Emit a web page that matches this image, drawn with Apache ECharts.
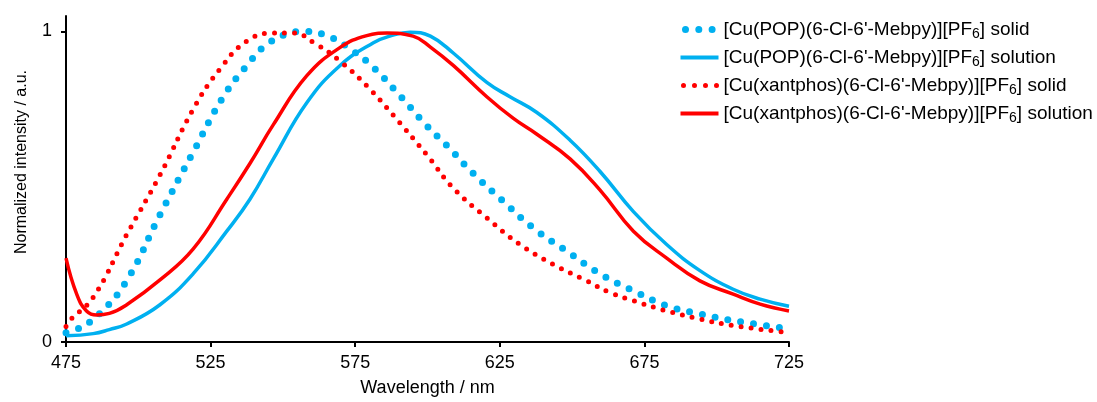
<!DOCTYPE html>
<html>
<head>
<meta charset="utf-8">
<script src="https://cdn.jsdelivr.net/npm/echarts@6/dist/echarts.min.js"></script>
<style>
html,body{margin:0;padding:0;background:#fff;}
#c{width:1097px;height:402px;}
</style>
</head>
<body>
<div id="c"></div>
<script>
// ---- data ----
var xTicks = [475, 525, 575, 625, 675, 725];
var yTicks = [0, 1];

var popSolidX = [475, 478.7, 486, 496, 507.5, 519, 529.4, 537.5, 544.4, 552.5, 557, 565.7, 574.3, 581.3, 590.5, 599.7, 606.6, 615.8, 626.2, 636.6, 648.1, 659.6, 671.2, 682.7, 694.2, 705.7, 725];
var popSolidY = [0.03, 0.04, 0.086, 0.198, 0.41, 0.612, 0.79, 0.89, 0.958, 0.995, 1.0, 0.985, 0.937, 0.884, 0.793, 0.697, 0.634, 0.543, 0.453, 0.367, 0.293, 0.22, 0.165, 0.117, 0.09, 0.069, 0.042];

var popSolnX = [475, 484.4, 490, 496, 507.5, 519, 530.6, 538.6, 546.7, 558.2, 569.7, 581.3, 587, 594, 601, 609, 620.5, 628.5, 637.7, 649.3, 659.6, 671.2, 682.7, 694.2, 705.7, 715, 725];
var popSolnY = [0.02, 0.027, 0.04, 0.058, 0.12, 0.22, 0.357, 0.46, 0.59, 0.77, 0.89, 0.964, 0.985, 0.998, 0.985, 0.93, 0.836, 0.79, 0.74, 0.65, 0.55, 0.42, 0.314, 0.23, 0.17, 0.138, 0.115];

var xantSolidX = [475, 476.4, 484.4, 496, 507.5, 519, 528.2, 537.5, 546.7, 553.6, 561.7, 569.7, 579, 588.2, 600, 609, 620.5, 632, 643.5, 655, 663, 671.2, 682.7, 694.2, 705.7, 725];
var xantSolidY = [0.05, 0.07, 0.144, 0.346, 0.538, 0.75, 0.879, 0.969, 0.995, 0.995, 0.958, 0.905, 0.825, 0.73, 0.60, 0.495, 0.40, 0.314, 0.25, 0.197, 0.16, 0.133, 0.10, 0.074, 0.053, 0.03];

var xantSolnX = [475, 478.7, 482.1, 485.6, 490, 496, 507.5, 519, 530.6, 538.6, 546.7, 558.2, 569.7, 579, 586, 595, 601, 609, 620.5, 629.7, 637.7, 649.3, 659.6, 671.2, 682.7, 694.2, 705.7, 715, 725];
var xantSolnY = [0.27, 0.154, 0.10, 0.087, 0.092, 0.12, 0.20, 0.30, 0.46, 0.575, 0.70, 0.857, 0.948, 0.987, 0.995, 0.985, 0.95, 0.89, 0.79, 0.72, 0.67, 0.59, 0.49, 0.357, 0.27, 0.197, 0.154, 0.122, 0.10];

var seriesNames = [
  "[Cu(POP)(6-Cl-6'-Mebpy)][PF6] solid",
  "[Cu(POP)(6-Cl-6'-Mebpy)][PF6] solution",
  "[Cu(xantphos)(6-Cl-6'-Mebpy)][PF6] solid",
  "[Cu(xantphos)(6-Cl-6'-Mebpy)][PF6] solution"
];

function pairs(xs, ys){ return xs.map(function(x,i){ return [x, ys[i]]; }); }

var BLUE = '#00B0F0', RED = '#FF0000';
var FONT = "'Liberation Sans', Arial, sans-serif";

var chart = echarts.init(document.getElementById('c'), null, {renderer:'canvas'});
chart.setOption({
  animation: false,
  backgroundColor: '#fff',
  textStyle: {fontFamily: FONT, color: '#000'},
  grid: {left: 66, right: 308, top: 16, bottom: 57, containLabel: false},
  legend: {
    orient: 'vertical',
    left: 677, top: 20, padding: 0,
    itemWidth: 38, itemHeight: 14, itemGap: 7,
    itemStyle: {opacity: 0},
    data: [
      {name: seriesNames[0], lineStyle: {width: 7, type: [0, 13.3], dashOffset: -5, cap: 'round', opacity: 1}},
      {name: seriesNames[1], lineStyle: {width: 4, type: 'solid', opacity: 1}},
      {name: seriesNames[2], lineStyle: {width: 5, type: [0, 11], dashOffset: -3, cap: 'round', opacity: 1}},
      {name: seriesNames[3], lineStyle: {width: 4, type: 'solid', opacity: 1}}
    ],
    formatter: function(n){ return n.replace('PF6', 'PF{sub|6}'); },
    textStyle: {
      fontFamily: FONT, fontSize: 19, color: '#000',
      rich: { sub: {fontFamily: FONT, fontSize: 14, color: '#000', padding: [9, 0, 0, 0]} }
    }
  },
  xAxis: {
    type: 'value', min: 475, max: 725,
    name: 'Wavelength / nm', nameLocation: 'middle', nameGap: 37,
    nameTextStyle: {fontFamily: FONT, fontSize: 18, color: '#000'},
    axisLine: {show: true, onZero: false, lineStyle: {color: '#000', width: 2}},
    axisTick: {show: true, length: 5, customValues: xTicks, lineStyle: {color: '#000', width: 2}},
    axisLabel: {customValues: xTicks, fontFamily: FONT, fontSize: 18, color: '#000', margin: 12},
    splitLine: {show: false}
  },
  yAxis: {
    type: 'value', min: 0, max: 1.05,
    name: 'Normalized intensity / a.u.', nameLocation: 'middle', nameGap: 36,
    nameTextStyle: {fontFamily: FONT, fontSize: 16, color: '#000', padding: [0, 0, 0, 34]},
    axisLine: {show: true, onZero: false, lineStyle: {color: '#000', width: 2}},
    axisTick: {show: true, length: 5, customValues: yTicks, lineStyle: {color: '#000', width: 2}},
    axisLabel: {customValues: yTicks, fontFamily: FONT, fontSize: 18, color: '#000', margin: 14},
    splitLine: {show: false}
  },
  series: [
    {
      name: seriesNames[0], type: 'line', data: pairs(popSolidX, popSolidY),
      symbol: 'none', smooth: 0.45, color: BLUE,
      lineStyle: {color: BLUE, width: 7, type: [0, 13], cap: 'round'}
    },
    {
      name: seriesNames[1], type: 'line', data: pairs(popSolnX, popSolnY),
      symbol: 'none', smooth: 0.45, color: BLUE,
      lineStyle: {color: BLUE, width: 3.5, type: 'solid'}
    },
    {
      name: seriesNames[2], type: 'line', data: pairs(xantSolidX, xantSolidY),
      symbol: 'none', smooth: 0.45, color: RED,
      lineStyle: {color: RED, width: 5, type: [0, 10], cap: 'round'}
    },
    {
      name: seriesNames[3], type: 'line', data: pairs(xantSolnX, xantSolnY),
      symbol: 'none', smooth: 0.45, color: RED,
      lineStyle: {color: RED, width: 3.5, type: 'solid'}
    }
  ]
});
</script>
</body>
</html>
